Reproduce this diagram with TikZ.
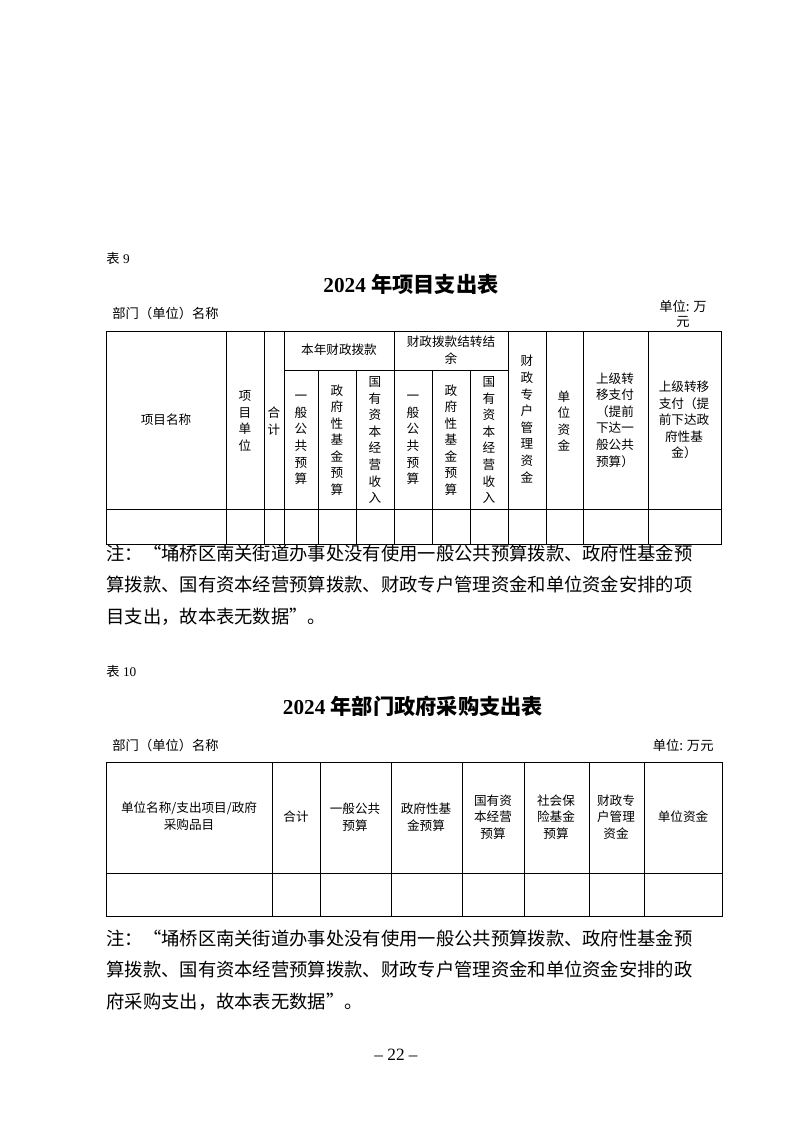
\documentclass[tikz,border=0pt]{standalone}
\usepackage{fontspec}
\setmainfont{Liberation Serif}
\newfontfamily\cjk{Noto Sans CJK SC}
\XeTeXlinebreaklocale "zh"

\begin{document}
\begin{tikzpicture}[x=0.26483mm,y=-0.26483mm,line width=0.7pt,
    cell/.style={inner sep=0pt,align=center,font=\cjk\fontsize{9.5}{12.5}\selectfont},
    note/.style={inner sep=0pt,align=left,anchor=west,font=\cjk\fontsize{13.8}{23.6}\selectfont},
    caption/.style={inner sep=0pt,anchor=west,font=\fontsize{10}{12}\selectfont},
    heading/.style={inner sep=0pt,font=\bfseries\fontsize{16}{18}\selectfont}]
  \useasboundingbox (0,0) rectangle (793,1122);
  % table 9
  \node[caption] (t9) at (106,258) {{\cjk 表} 9};
  \node[heading] (h9) at (411,284) {2024 {\cjk 年项目支出表}};
  \node[caption] (d9) at (112,313) {\cjk 部门（单位）名称};
  \node[caption,anchor=center,align=center,font=\cjk\fontsize{10}{11.5}\selectfont] (u9) at (683,314) {单位: 万\\元};
  \draw (106,331) rectangle (721,544) (106,509) -- (721,509) (284,370) -- (508,370);
  \foreach \x in {226,264,284,394,508,546,583,648} \draw (\x,331) -- (\x,544);
  \foreach \x in {318,356,432,470} \draw (\x,370) -- (\x,544);
  \node[cell] (c1) at (166,420) {项目名称};
  \node[cell] (c2) at (245,421) {项\\目\\单\\位};
  \node[cell] (c3) at (274,421) {合\\计};
  \node[cell] (g1) at (339,350) {本年财政拨款};
  \node[cell] (g2) at (451,350) {财政拨款结转结\\余};
  \node[cell] (s1) at (301,440) {一\\般\\公\\共\\预\\算};
  \node[cell] (s2) at (337,440) {政\\府\\性\\基\\金\\预\\算};
  \node[cell] (s3) at (375,440) {国\\有\\资\\本\\经\\营\\收\\入};
  \node[cell] (s4) at (413,440) {一\\般\\公\\共\\预\\算};
  \node[cell] (s5) at (451,440) {政\\府\\性\\基\\金\\预\\算};
  \node[cell] (s6) at (489,440) {国\\有\\资\\本\\经\\营\\收\\入};
  \node[cell] (c4) at (527,419) {财\\政\\专\\户\\管\\理\\资\\金};
  \node[cell] (c5) at (564,421) {单\\位\\资\\金};
  \node[cell] (c6) at (615,420) {上级转\\移支付\\（提前\\下达一\\般公共\\预算）};
  \node[cell] (c7) at (684,420) {上级转移\\支付（提\\前下达政\\府性基\\金）};
  \node[note] (n9) at (106,585) {注：“埇桥区南关街道办事处没有使用一般公共预算拨款、政府性基金预\\算拨款、国有资本经营预算拨款、财政专户管理资金和单位资金安排的项\\目支出，故本表无数据”。};
  % table 10
  \node[caption] (t10) at (106,671) {{\cjk 表} 10};
  \node[heading] (h10) at (413,706) {2024 {\cjk 年部门政府采购支出表}};
  \node[caption] (d10) at (112,745) {\cjk 部门（单位）名称};
  \node[caption,anchor=east] (u10) at (714,745) {\cjk 单位: 万元};
  \draw (106,762) rectangle (722,916) (106,873) -- (722,873);
  \foreach \x in {272,320,391,462,524,589,644} \draw (\x,762) -- (\x,916);
  \node[cell] (p1) at (189,816) {单位名称/支出项目/政府\\采购品目};
  \node[cell] (p2) at (296,817) {合计};
  \node[cell] (p3) at (355,817) {一般公共\\预算};
  \node[cell] (p4) at (426,817) {政府性基\\金预算};
  \node[cell] (p5) at (493,817) {国有资\\本经营\\预算};
  \node[cell] (p6) at (556,817) {社会保\\险基金\\预算};
  \node[cell] (p7) at (616,817) {财政专\\户管理\\资金};
  \node[cell] (p8) at (683,817) {单位资金};
  \node[note] (n10) at (106,970) {注：“埇桥区南关街道办事处没有使用一般公共预算拨款、政府性基金预\\算拨款、国有资本经营预算拨款、财政专户管理资金和单位资金安排的政\\府采购支出，故本表无数据”。};
  \node[caption,anchor=center,font=\fontsize{13}{15}\selectfont] (pg) at (396,1055) {– 22 –};
\end{tikzpicture}
\end{document}
